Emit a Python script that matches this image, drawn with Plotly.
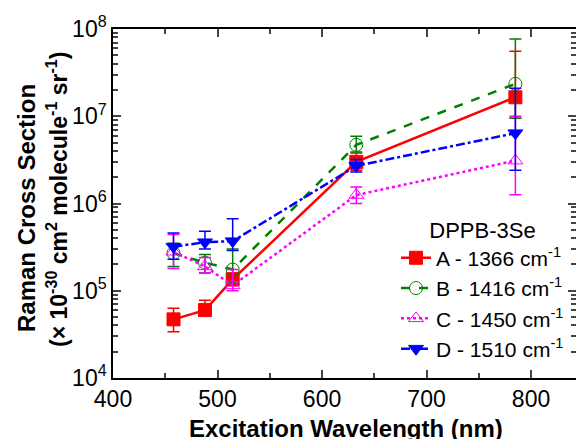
import plotly.graph_objects as go

wavelength = [457.9, 488.0, 514.5, 632.8, 785.0]

a_vals = [4.7e4, 6.0e4, 1.35e5, 3.0e6, 1.65e7]
a_plus = [1.6e4, 1.8e4, 2.5e4, 8.0e5, 3.9e7]
a_minus = [1.3e4, 8.0e3, 2.0e4, 6.0e5, 7.0e6]

b_vals = [2.7e5, 2.1e5, 1.75e5, 4.7e6, 2.35e7]
b_plus = [8.0e4, 5.0e4, 1.25e5, 1.2e6, 5.35e7]
b_minus = [8.0e4, 5.0e4, 5.0e4, 8.0e5, 1.4e7]

c_vals = [2.8e5, 1.9e5, 1.15e5, 1.25e6, 3.1e6]
c_plus = [1.6e5, 5.0e4, 6.0e4, 3.0e5, 6.9e6]
c_minus = [1.0e5, 3.0e4, 1.5e4, 2.5e5, 1.84e6]

d_vals = [3.2e5, 3.6e5, 3.7e5, 2.7e6, 6.4e6]
d_plus = [1.4e5, 1.2e5, 3.0e5, 5.0e5, 1.45e7]
d_minus = [9.0e4, 6.0e4, 8.0e4, 4.0e5, 4.0e6]

names = ["A - 1366 cm<sup>-1</sup>", "B - 1416 cm<sup>-1</sup>",
         "C - 1450 cm<sup>-1</sup>", "D - 1510 cm<sup>-1</sup>"]
legend_title = "DPPB-3Se"
y_ticks = [1e4, 1e5, 1e6, 1e7, 1e8]
y_ticktext = ["10<sup>4</sup>", "10<sup>5</sup>", "10<sup>6</sup>", "10<sup>7</sup>", "10<sup>8</sup>"]
x_ticks = [400, 500, 600, 700, 800]

series = [
    (a_vals, a_plus, a_minus, "#FF0000", "solid", "square"),
    (b_vals, b_plus, b_minus, "#008000", "dash", "circle-open"),
    (c_vals, c_plus, c_minus, "#FF00FF", "dot", "triangle-up-open"),
    (d_vals, d_plus, d_minus, "#0000FF", "dashdot", "triangle-down"),
]

fig = go.Figure()
for name, (vals, plus, minus, col, dash, sym) in zip(names, series):
    fig.add_trace(go.Scatter(
        x=wavelength, y=vals, name=name, mode="lines+markers",
        line=dict(color=col, width=2.5, dash=dash),
        marker=dict(symbol=sym, size=13, color=col, line=dict(color=col, width=1)),
        error_y=dict(type="data", symmetric=False, array=plus, arrayminus=minus,
                     color=col, thickness=1.5, width=6),
    ))

minor_y = [m * 10 ** e for e in range(4, 8) for m in range(2, 10)]

# invisible trace carrying the right-side mirrored ticks
fig.add_trace(go.Scatter(x=[None], y=[None], yaxis="y2", showlegend=False))

font = "Liberation Sans, Arial, sans-serif"
T = 378  # plot bottom in px
H = 349  # plot height in px
W = 463  # plot width in px
L = 113  # plot left in px

fig.update_layout(
    width=576, height=439,
    margin=dict(l=L, r=0, t=29, b=439 - T, autoexpand=False),
    paper_bgcolor="white", plot_bgcolor="white",
    font=dict(family=font, size=21, color="black"),
    showlegend=True,
    legend=dict(x=(396 - L) / W, y=(T - 209) / H, xanchor="left", yanchor="top",
                bgcolor="rgba(0,0,0,0)", font=dict(size=21),
                title=dict(text=legend_title, font=dict(size=22), side="top center"),
                tracegroupgap=0, itemwidth=30),
    xaxis=dict(range=[400, 843], tickvals=x_ticks, ticks="inside", ticklen=8,
               tickwidth=1.5, showline=True, linewidth=1.5, linecolor="black",
               mirror="ticks", showgrid=False, zeroline=False, automargin=False,
               tickfont=dict(size=23),
               minor=dict(tickvals=[450, 550, 650, 750, 850], ticks="inside",
                          ticklen=5, tickwidth=1.5)),
    yaxis=dict(type="log", range=[4, 8], tickvals=y_ticks, ticktext=y_ticktext,
               ticks="inside", ticklen=8, tickwidth=1.5, showline=True,
               linewidth=1.5, linecolor="black", showgrid=False, zeroline=False,
               automargin=False, tickfont=dict(size=23),
               minor=dict(tickvals=minor_y, ticks="inside", ticklen=5, tickwidth=1.5)),
    yaxis2=dict(type="log", range=[4, 8], overlaying="y", side="right",
                tickvals=y_ticks, ticks="inside", ticklen=8, tickwidth=1.5,
                showticklabels=False, showline=False, showgrid=False, zeroline=False,
                automargin=False,
                minor=dict(tickvals=minor_y, ticks="inside", ticklen=5, tickwidth=1.5)),
    annotations=[
        dict(text="<b>Excitation Wavelength (nm)</b>", xref="paper", yref="paper",
             x=(346 - L) / W, y=(T - 428) / H, xanchor="center", yanchor="middle",
             showarrow=False, font=dict(size=24)),
        dict(text="<b>Raman Cross Section</b>", xref="paper", yref="paper",
             x=(26 - L) / W, y=(T - 208) / H, xanchor="center", yanchor="middle",
             textangle=-90, showarrow=False, font=dict(size=24)),
        dict(text="<b>(× 10<sup>-30</sup> cm<sup>2</sup> molecule<sup>-1</sup> sr<sup>-1</sup>)</b>",
             xref="paper", yref="paper",
             x=(57 - L) / W, y=(T - 200) / H, xanchor="center", yanchor="middle",
             textangle=-90, showarrow=False, font=dict(size=23)),
    ],
)

fig.write_html("out.html", config={"displayModeBar": False},
               post_script="document.body.style.margin='0';document.body.style.overflow='hidden';")
